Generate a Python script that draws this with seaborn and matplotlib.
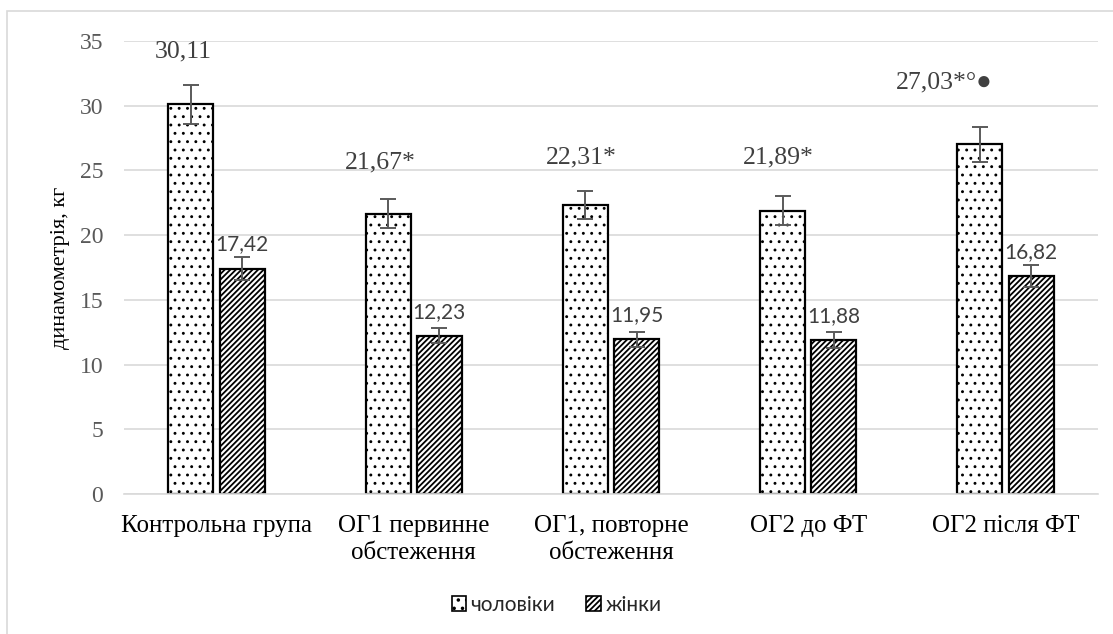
# -*- coding: utf-8 -*-
# dynamometry by group, men / women, with error bars
import pandas as pd
import matplotlib.pyplot as plt
import seaborn as sns
from matplotlib.patches import Rectangle, Patch

# data
groups = ['Контрольна група', 'ОГ1 первинне\nобстеження', 'ОГ1, повторне\nобстеження',
          'ОГ2 до ФТ', 'ОГ2 після ФТ']
men = [30.11, 21.67, 22.31, 21.89, 27.03]
women = [17.42, 12.23, 11.95, 11.88, 16.82]
men_err = [1.5, 1.1, 1.1, 1.1, 1.35]
women_err = [0.9, 0.6, 0.6, 0.6, 0.85]
men_labels = ['30,11', '21,67*', '22,31*', '21,89*', '27,03*°●']
women_labels = ['17,42', '12,23', '11,95', '11,88', '16,82']
sex_names = ['чоловіки', 'жінки']

df = pd.DataFrame({
    'group': groups * 2,
    'value': men + women,
    'sex': [sex_names[0]] * 5 + [sex_names[1]] * 5,
})

sns.set_theme(style='white')
plt.rcParams['hatch.linewidth'] = 1.3
serif = 'Liberation Serif'
sans = 'Lato'

fig = plt.figure(figsize=(11.13, 6.34), dpi=100)
ax = fig.add_axes([124 / 1113, 1 - 494 / 634, 974 / 1113, 453 / 634])

sns.barplot(data=df, x='group', y='value', hue='sex', order=groups, hue_order=sex_names,
            palette=['white', 'white'], width=0.52, gap=0.12, errorbar=None,
            edgecolor='black', linewidth=1.6, legend=False, ax=ax)

hatches = ['..', '//////']
hatch_lw = [0.9, 1.3]
for cont, h, hl, vals, errs in zip(ax.containers, hatches, hatch_lw, [men, women], [men_err, women_err]):
    xs = []
    for bar in cont:
        bar.set_hatch(h)
        if hasattr(bar, 'set_hatch_linewidth'):
            bar.set_hatch_linewidth(hl)
        bar.set_edgecolor('black')
        xs.append(bar.get_x() + bar.get_width() / 2)
    ax.errorbar(xs, vals, yerr=errs, fmt='none', ecolor='#5a5a5a', elinewidth=1.4,
                capsize=5.5, capthick=1.4, zorder=5)

# value labels
men_x = [ax.containers[0][i].get_x() + ax.containers[0][i].get_width() / 2 for i in range(5)]
women_x = [ax.containers[1][i].get_x() + ax.containers[1][i].get_width() / 2 for i in range(5)]
men_ly = [34.2, 25.6, 26.0, 26.0, 31.8]
men_dx = [-0.04, -0.04, -0.02, -0.02, -0.18]
for x, y, dx, t in zip(men_x, men_ly, men_dx, men_labels):
    ax.text(x + dx, y, t, ha='center', va='center', fontsize=18.5,
            family=[serif, 'DejaVu Sans'], color='#404040')
for x, v, t in zip(women_x, women, women_labels):
    ax.text(x, v + 1.85, t, ha='center', va='center', fontsize=15,
            family=sans, color='#404040')

ax.set_ylim(0, 35)
ax.set_yticks(range(0, 36, 5))
ax.grid(axis='y', color='#d9d9d9', linewidth=1.2)
ax.set_axisbelow(True)
for s in ['top', 'right', 'left']:
    ax.spines[s].set_visible(False)
ax.spines['bottom'].set_color('#d9d9d9')
ax.spines['bottom'].set_linewidth(1.2)
ax.tick_params(axis='both', length=0)
ax.tick_params(axis='y', pad=15, labelcolor='#595959')
ax.tick_params(axis='x', pad=15)
for lab in ax.get_yticklabels():
    lab.set_fontfamily(serif)
    lab.set_fontsize(17)
for lab in ax.get_xticklabels():
    lab.set_fontfamily(serif)
    lab.set_fontsize(18)
    lab.set_color('black')
    lab.set_linespacing(1.3)
ax.set_xlabel('')
ax.set_ylabel('динамометрія, кг', fontsize=16, family=serif, color='black', labelpad=7)

# legend
handles = [Patch(facecolor='white', edgecolor='black', hatch=h, linewidth=1.2) for h in hatches]
fig.legend(handles, sex_names, loc='center', bbox_to_anchor=(0.5, 1 - 605 / 634), ncol=2,
           frameon=False, prop={'family': sans, 'size': 15}, handlelength=0.7,
           handleheight=0.7, handletextpad=0.2, columnspacing=1.5)

# chart border
fig.patches.append(Rectangle((7 / 1113, -0.05), 1.2, 1 - 11 / 634 + 0.05,
                             transform=fig.transFigure, fill=False,
                             edgecolor='#d9d9d9', linewidth=1.2))

fig.savefig('out.png', dpi=100)
